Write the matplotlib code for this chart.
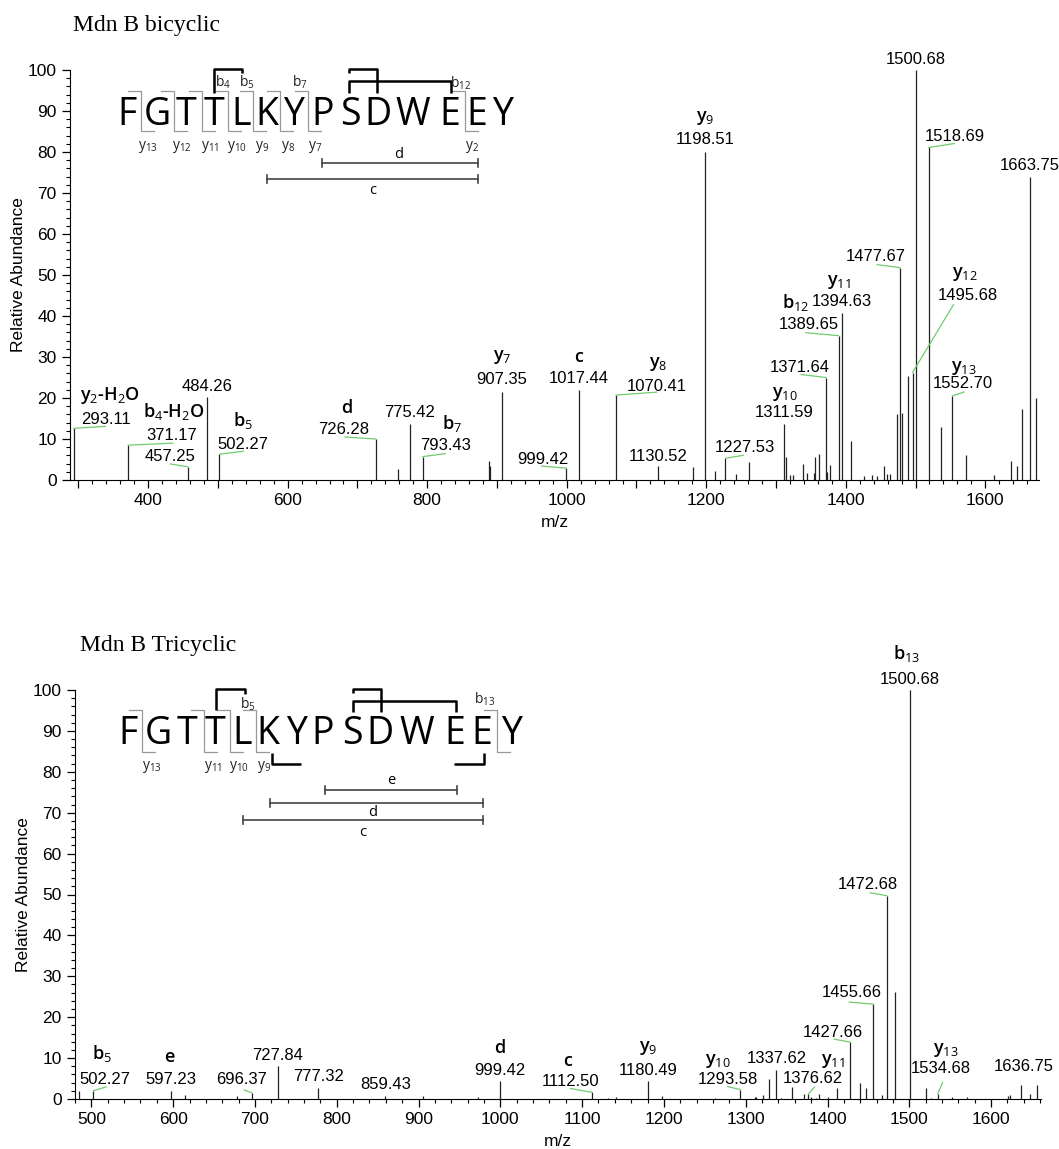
import numpy as np
import matplotlib.pyplot as plt
from matplotlib.ticker import MultipleLocator, FuncFormatter

W, H = 1059, 1149

plt.rcParams['font.family'] = ['Liberation Sans', 'DejaVu Sans']
plt.rcParams['mathtext.fontset'] = 'custom'
plt.rcParams['mathtext.rm'] = 'Open Sans'
plt.rcParams['mathtext.it'] = 'Open Sans:italic'
plt.rcParams['mathtext.bf'] = 'Open Sans:bold'

# ---------------- bicyclic spectrum ----------------
mz_top = [293.11, 371.17, 457.25, 484.26, 502.27, 726.28, 758, 775.42, 793.43, 888,
          890, 907.35, 999.42, 1017.44, 1070.41, 1130.52, 1181, 1198.51, 1213, 1227.53,
          1242, 1261, 1311.59, 1314.6, 1320, 1325, 1338, 1345, 1354, 1356,
          1361, 1371.64, 1373.5, 1377, 1389.65, 1394.63, 1408, 1426, 1437, 1445,
          1455, 1459, 1464, 1473, 1477.67, 1481, 1489, 1495.68, 1500.68, 1518.69,
          1537, 1552.70, 1572, 1613, 1637, 1645, 1653, 1663.75, 1672]
int_top = [12.6, 8.5, 3.2, 20.3, 6.3, 10.0, 2.7, 13.7, 5.7, 4.6,
           3.5, 21.5, 2.9, 22.0, 20.7, 3.4, 3.2, 80.0, 2.3, 5.3,
           1.4, 4.4, 13.6, 5.7, 1.1, 1.3, 3.8, 1.8, 1.6, 5.7,
           6.3, 25.0, 2.0, 3.7, 35.2, 40.8, 9.4, 1.0, 1.2, 1.0,
           3.5, 1.5, 1.5, 16.1, 51.8, 16.4, 25.4, 26.2, 100, 81.1,
           13.0, 20.5, 6.1, 1.2, 4.7, 3.4, 17.2, 74.0, 19.9]

lab_top_mz = [293.11, 371.17, 457.25, 484.26, 502.27, 726.28, 775.42, 793.43, 907.35,
              999.42, 1017.44, 1070.41, 1130.52, 1198.51, 1227.53, 1311.59, 1371.64,
              1389.65, 1394.63, 1477.67, 1495.68, 1500.68, 1518.69, 1552.70, 1663.75]
lab_top_ion = ['y$_{2}$-H$_{2}$O', 'b$_{4}$-H$_{2}$O', '', '', 'b$_{5}$', 'd', '', 'b$_{7}$', 'y$_{7}$',
               '', 'c', 'y$_{8}$', '', 'y$_{9}$', '', 'y$_{10}$', '',
               'b$_{12}$', 'y$_{11}$', '', 'y$_{12}$', '', '', 'y$_{13}$', '']

# ---------------- tricyclic spectrum ----------------
mz_bot = [485, 502.27, 597.23, 615, 678, 696.37, 727.84, 777.32, 859.43, 905,
          973, 999.42, 1112.50, 1132, 1142, 1180.49, 1198, 1263, 1293.58, 1311.5,
          1313, 1321, 1329, 1337.62, 1343.6, 1356, 1371, 1376.62, 1380, 1386,
          1390, 1401, 1412, 1427.66, 1440, 1447, 1455.66, 1467, 1472.68, 1483,
          1500.68, 1521, 1526, 1534.68, 1552, 1571, 1621, 1623, 1636.75, 1648, 1656]
int_bot = [1.9, 2.0, 2.0, 1.1, 0.8, 1.5, 8.0, 2.6, 0.65, 0.65,
           0.5, 4.5, 1.6, 0.3, 0.4, 4.3, 0.65, 0.3, 2.3, 0.5,
           0.4, 1.0, 4.9, 7.2, 0.2, 2.9, 1.2, 1.2, 0.5, 0.3,
           1.2, 0.5, 2.8, 13.9, 3.9, 2.7, 23.2, 1.05, 49.7, 26.2,
           100, 2.8, 0.2, 1.2, 0.6, 0.4, 0.65, 1.1, 3.4, 1.2, 3.4]

lab_bot_mz = [502.27, 597.23, 696.37, 727.84, 777.32, 859.43, 999.42, 1112.50, 1180.49,
              1293.58, 1337.62, 1376.62, 1427.66, 1455.66, 1472.68, 1500.68, 1534.68, 1636.75]
lab_bot_ion = ['b$_{5}$', 'e', '', '', '', '', 'd', 'c', 'y$_{9}$',
               'y$_{10}$', '', 'y$_{11}$', '', '', '', 'b$_{13}$', 'y$_{13}$', '']

# label layout (pixel offsets from peak top): number, ion, leader end
off_top_num = [(32, 9), (44, 10), (-18, 10), (0, 10), (23, 10), (-32, 10), (0, 11), (23, 11), (0, 12),
               (-23, 9), (0, 11), (41, 9), (0, 10), (0, 12), (19, 11), (0, 12), (-26, 10),
               (-30, 11), (0, 11), (-24, 11), (55, 77), (0, 10), (26, 11), (11, 12), (0, 11)]
off_top_ion = [(36, 33), (46, 34), None, None, (23, 34), (-29, 31), None, (29, 33), (0, 35),
               None, (0, 33), (42, 31), None, (0, 34), None, (1, 30), None,
               (-43, 33), (-3, 31), None, (52, 99), None, None, (11, 28), None]
off_top_lead = [(32, 2), (45, 2), (-18, 3), None, (24, 3), (-31, 2), None, (23, 3), None,
                (-25, 2), None, (41, 3), None, None, (18, 3), None, (-25, 3),
                (-33, 3), None, (-23, 3), (41, 68), None, (26, 4), (12, 4), None]

off_bot_num = [(12, 11), (0, 11), (-10, 13), (0, 11), (0, 12), (0, 12), (0, 10), (-22, 11), (0, 11),
               (-13, 10), (0, 11), (4, 16), (-17, 10), (-21, 12), (-19, 11), (0, 11), (3, 26), (3, 19)]
off_bot_ion = [(9, 37), (-2, 34), None, None, None, None, (0, 33), (-25, 31), (0, 33),
               (-23, 29), None, (24, 33), None, None, None, (-3, 37), (8, 44), None]
off_bot_lead = [(13, 4), None, (-8, 3), None, None, None, None, (-22, 4), None,
                (-13, 3), None, (6, 7), (-16, 3), (-24, 2), (-17, 3), None, (5, 12), None]

GREEN = '#70cc70'

fig = plt.figure(figsize=(W / 100, H / 100), dpi=100)
ax1 = fig.add_axes([70 / W, 1 - 480 / H, (1039 - 70) / W, 410 / H])
ax2 = fig.add_axes([75 / W, 1 - 1099 / H, (1041 - 75) / W, 409 / H])


def style_axis(ax, xlim, every):
    ax.set_xlim(*xlim)
    ax.set_ylim(0, 100)
    ax.spines['top'].set_visible(False)
    ax.spines['right'].set_visible(False)
    ax.xaxis.set_major_locator(MultipleLocator(100))
    ax.xaxis.set_minor_locator(MultipleLocator(20))
    ax.yaxis.set_major_locator(MultipleLocator(10))
    ax.yaxis.set_minor_locator(MultipleLocator(2))
    ax.xaxis.set_major_formatter(FuncFormatter(lambda v, p: '%d' % v if round(v) % every == 0 else ''))
    ax.tick_params(which='major', length=6, width=0.9, labelsize=12.5, direction='out')
    ax.tick_params(which='minor', length=3, width=0.8, direction='out')
    ax.set_ylabel('Relative Abundance', fontsize=12.5, labelpad=1)
    ax.set_xlabel('m/z', fontsize=12.5, labelpad=5)


def draw_spectrum(ax, mz, inten, lab_mz, lab_ion, o_num, o_ion, o_lead):
    ax.vlines(mz, 0, inten, color='#222222', lw=0.9)
    for m, ion, on, oi, ol in zip(lab_mz, lab_ion, o_num, o_ion, o_lead):
        h = inten[mz.index(m)]
        ax.annotate('%.2f' % m, (m, h), xytext=on, textcoords='offset pixels',
                    ha='center', va='center', fontsize=12)
        if ion:
            ax.annotate(ion, (m, h), xytext=oi, textcoords='offset pixels',
                        ha='center', va='center', fontsize=13, family='Open Sans',
                        weight='semibold')
        if ol:
            ax.annotate('', xy=(m, h), xytext=ol, textcoords='offset pixels',
                        arrowprops=dict(arrowstyle='-', color=GREEN, lw=0.9,
                                        shrinkA=0, shrinkB=0))


style_axis(ax1, (288, 1677), 200)
style_axis(ax2, (480, 1661), 100)
draw_spectrum(ax1, mz_top, int_top, lab_top_mz, lab_top_ion, off_top_num, off_top_ion, off_top_lead)
draw_spectrum(ax2, mz_bot, int_bot, lab_bot_mz, lab_bot_ion, off_bot_num, off_bot_ion, off_bot_lead)

# ---------------- overlay for titles and peptide schemes (pixel coordinates) ----------------
ov = fig.add_axes([0, 0, 1, 1], zorder=5)
ov.set_xlim(0, W)
ov.set_ylim(H, 0)
ov.axis('off')

ov.text(73, 26, 'Mdn B bicyclic', family='Liberation Serif', fontsize=17, va='center')
ov.text(80, 645, 'Mdn B Tricyclic', family='Liberation Serif', fontsize=17, va='center')

seq = 'FGTTLKYPSDWEEY'


def peptide(letters_x, base, cleaves, top, bot, labels, black, bars):
    for ch, x in zip(seq, letters_x):
        ov.text(x, base, ch, ha='center', va='baseline', fontsize=27, family='Open Sans')
    for x in cleaves:
        ov.plot([x - 13, x, x, x + 13], [top, top, bot, bot], color='#999999', lw=0.9)
    for t, x, y in labels:
        ov.text(x, y, t, ha='center', va='center', fontsize=10, family='Open Sans', color='#222222')
    for xs, ys in black:
        ov.plot(xs, ys, color='black', lw=1.8, solid_capstyle='butt')
    for x0, x1, y, t, tx, ty in bars:
        ov.plot([x0, x1], [y, y], color='#444444', lw=1.2)
        ov.plot([x0, x0], [y - 4, y + 4], color='#444444', lw=1.2)
        ov.plot([x1, x1], [y - 4, y + 4], color='#444444', lw=1.2)
        ov.text(tx, ty, t, ha='center', va='center', fontsize=10.5, family='Open Sans')


peptide([127, 157, 186, 214, 241, 267, 294, 323, 350, 378, 413, 450, 477, 503], 125,
        [141, 174, 202, 228, 253, 280, 308, 465], 91, 131,
        [('b$_{4}$', 223, 82), ('b$_{5}$', 247, 82), ('b$_{7}$', 300, 82), ('b$_{12}$', 461, 83),
         ('y$_{13}$', 148, 147), ('y$_{12}$', 182, 147), ('y$_{11}$', 210, 147), ('y$_{10}$', 237, 147),
         ('y$_{9}$', 262, 147), ('y$_{8}$', 288, 147), ('y$_{7}$', 315, 147), ('y$_{2}$', 472, 147)],
        [([214, 214, 242, 242], [93, 69, 69, 73]),
         ([349, 349, 377, 377], [73, 69, 69, 93]),
         ([349, 349, 451, 451], [93, 81, 81, 93])],
        [(322, 478, 163, 'd', 399, 154), (267, 478, 179, 'c', 373, 190)])

peptide([128, 158, 187, 215, 242, 268, 297, 323, 352, 380, 417, 455, 482, 512], 744,
        [142, 204, 230, 256, 497], 710, 752,
        [('b$_{5}$', 248, 704), ('b$_{13}$', 485, 699),
         ('y$_{13}$', 152, 767), ('y$_{11}$', 213, 767), ('y$_{10}$', 239, 767), ('y$_{9}$', 264, 767)],
        [([216, 216, 245, 245], [710, 689, 689, 694]),
         ([353, 353, 381, 381], [693, 689, 689, 712]),
         ([353, 353, 456, 456], [712, 701, 701, 712]),
         ([272, 272, 301], [753, 764, 764]),
         ([454, 484, 484], [764, 764, 753])],
        [(325, 457, 790, 'e', 391, 781), (270, 483, 803, 'd', 373, 812), (243, 483, 820, '', 0, 0)])
ov.text(363, 832, 'c', ha='center', va='center', fontsize=10.5, family='Open Sans')

fig.savefig('out.png', dpi=100)
